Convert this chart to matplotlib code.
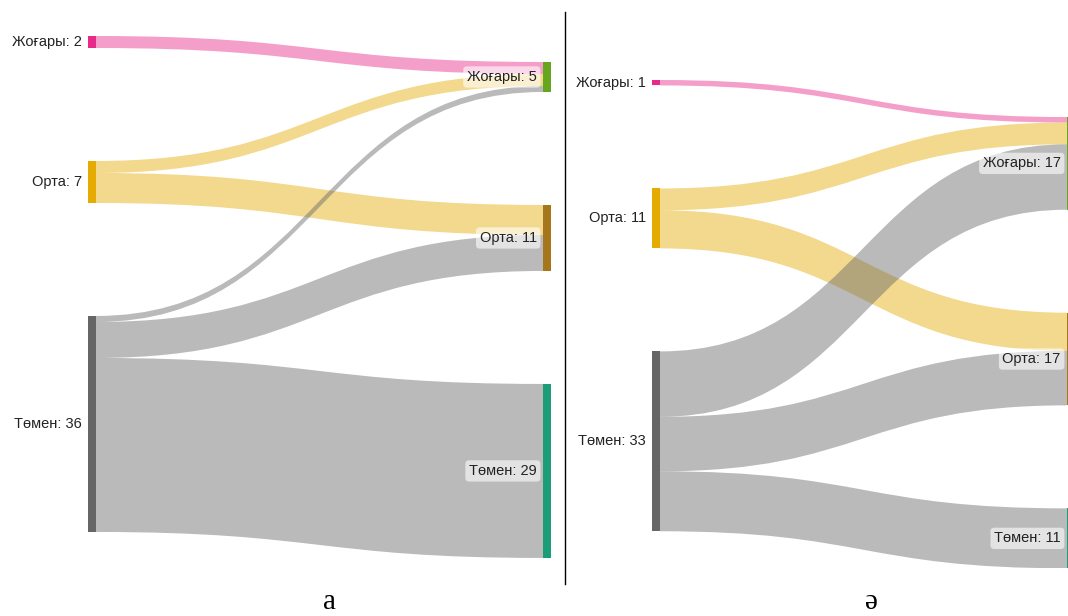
import matplotlib.pyplot as plt
from matplotlib.path import Path
from matplotlib.patches import PathPatch, Rectangle
from matplotlib.lines import Line2D

plt.rcParams['font.family'] = ['Liberation Sans', 'DejaVu Sans']

levels = ["Жоғары", "Орта", "Төмен"]

# panel а : rows = source level, cols = target level
a_source = [2, 7, 36]
a_target = [5, 11, 29]
a_flows = [[2, 0, 0],
           [2, 5, 0],
           [1, 6, 29]]

# panel ә
b_source = [1, 11, 33]
b_target = [17, 17, 11]
b_flows = [[1, 0, 0],
           [4, 7, 0],
           [12, 10, 11]]

src_colors = ["#e7298a", "#e6ab02", "#666666"]
tgt_colors = ["#66a61e", "#a6761d", "#1b9e77"]

W, H = 1068, 616
fig = plt.figure(figsize=(W / 100, H / 100), dpi=100)


def stack(values, gap, shift):
    tops = []
    y = shift
    for v in values:
        tops.append(y)
        y += v + gap
    return tops


def sankey(x0, x1, top, scale, gap, shift, src, tgt, flows):
    src_top = stack(src, gap, 0)
    tgt_top = stack(tgt, gap, shift)
    bottom = max(src_top[-1] + src[-1], tgt_top[-1] + tgt[-1])
    y1 = top + bottom * scale
    ax = fig.add_axes([x0 / W, 1 - y1 / H, (x1 - x0) / W, (y1 - top) / H])
    ax.set_xlim(0, 1)
    ax.set_ylim(bottom, 0)
    ax.axis('off')
    nw = 8 / (x1 - x0)

    # links
    out_used = [0] * len(src)
    in_used = [0] * len(tgt)
    xa, xb = nw, 1 - nw
    xm = (xa + xb) / 2
    for i in range(len(src)):
        for j in range(len(tgt)):
            v = flows[i][j]
            if v == 0:
                continue
            ys = src_top[i] + out_used[i]
            yt = tgt_top[j] + in_used[j]
            out_used[i] += v
            in_used[j] += v
            verts = [(xa, ys), (xm, ys), (xm, yt), (xb, yt),
                     (xb, yt + v), (xm, yt + v), (xm, ys + v), (xa, ys + v),
                     (xa, ys)]
            codes = [Path.MOVETO, Path.CURVE4, Path.CURVE4, Path.CURVE4,
                     Path.LINETO, Path.CURVE4, Path.CURVE4, Path.CURVE4,
                     Path.CLOSEPOLY]
            ax.add_patch(PathPatch(Path(verts, codes), fc=src_colors[i],
                                   ec='none', alpha=0.45))

    # nodes + labels
    for i, v in enumerate(src):
        ax.add_patch(Rectangle((0, src_top[i]), nw, v, fc=src_colors[i], ec='none'))
        ax.annotate(f"{levels[i]}: {v}", xy=(0, src_top[i] + v / 2),
                    xytext=(-4.5, 0), textcoords='offset points',
                    ha='right', va='center', fontsize=10.5, color='#222222')
    for j, v in enumerate(tgt):
        ax.add_patch(Rectangle((1 - nw, tgt_top[j]), nw, v, fc=tgt_colors[j], ec='none'))
        ax.annotate(f"{levels[j]}: {v}", xy=(1 - nw, tgt_top[j] + v / 2),
                    xytext=(-4.5, 0), textcoords='offset points',
                    ha='right', va='center', fontsize=10.5, color='#222222',
                    bbox=dict(boxstyle='round,pad=0.25', fc='white', ec='none', alpha=0.6))
    return ax


sankey(88, 551, 36, 6.0, 18.83, 4.33, a_source, a_target, a_flows)
sankey(652, 1075, 80, 5.45, 18.9, 6.8, b_source, b_target, b_flows)

# divider and captions
fig.add_artist(Line2D([565 / W, 565 / W], [1 - 12 / H, 1 - 584 / H], color='black', lw=1))
fig.text(329 / W, 1 - 615 / H, "а", ha='center', va='bottom',
         fontsize=21, family='Liberation Serif')
fig.text(871 / W, 1 - 615 / H, "ә", ha='center', va='bottom',
         fontsize=21, family='Liberation Serif')

fig.savefig("out.png", dpi=100)
